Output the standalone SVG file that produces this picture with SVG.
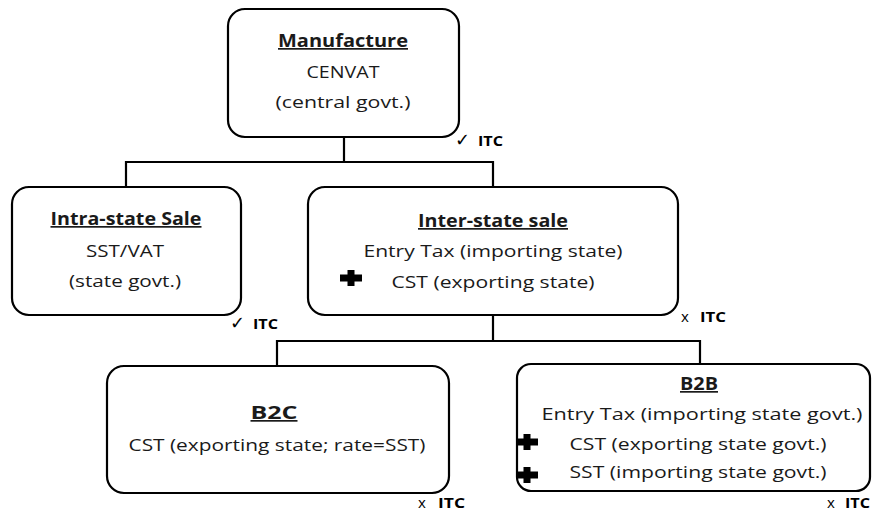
<svg xmlns="http://www.w3.org/2000/svg" width="873" height="514" viewBox="0 0 873 514">
<style>
.box{fill:#fff;stroke:#000;stroke-width:2.2}
.t{font-family:"Open Sans","Liberation Sans",sans-serif;font-size:17px;fill:#1a1a1a;text-anchor:middle}
.h{font-weight:bold;text-decoration:underline}
.itc{font-family:"Open Sans","Liberation Sans",sans-serif;font-size:15px;font-weight:bold;fill:#000}
.mk{font-family:"DejaVu Sans",sans-serif;font-size:18px;fill:#000}
.ln{stroke:#000;stroke-width:2.2;fill:none}
.plus{fill:#000}
</style>
<defs>
<path id="plus" d="M-3.5,-8h7v4.5h7.5v7h-7.5v4.5h-7v-4.5h-7.5v-7h7.5z"/>
</defs>
<g id="connectors">
<path class="ln" d="M344,137V162M126,187V162H493V187"/>
<path class="ln" d="M493,315V341M277,366V341H700V364"/>
</g>
<g id="manufacture">
<rect class="box" x="228" y="9" width="231" height="128" rx="17"/>
<text class="t h" x="343" y="47" textLength="130" lengthAdjust="spacingAndGlyphs">Manufacture</text>
<text class="t" x="343" y="78" textLength="73" lengthAdjust="spacingAndGlyphs">CENVAT</text>
<text class="t" x="343" y="108" textLength="135" lengthAdjust="spacingAndGlyphs">(central govt.)</text>
<text class="mk" x="455" y="146">✓</text>
<text class="itc" x="478" y="146" textLength="25" lengthAdjust="spacingAndGlyphs">ITC</text>
</g>
<g id="intra-state">
<rect class="box" x="12" y="187" width="229" height="128" rx="17"/>
<text class="t h" x="126" y="225" textLength="151" lengthAdjust="spacingAndGlyphs">Intra-state Sale</text>
<text class="t" x="125" y="257" textLength="78" lengthAdjust="spacingAndGlyphs">SST/VAT</text>
<text class="t" x="125" y="287" textLength="112" lengthAdjust="spacingAndGlyphs">(state govt.)</text>
<text class="mk" x="230" y="329">✓</text>
<text class="itc" x="253" y="329" textLength="25" lengthAdjust="spacingAndGlyphs">ITC</text>
</g>
<g id="inter-state">
<rect class="box" x="308" y="187" width="370" height="128" rx="17"/>
<text class="t h" x="493" y="227" textLength="150" lengthAdjust="spacingAndGlyphs">Inter-state sale</text>
<text class="t" x="493" y="257" textLength="259" lengthAdjust="spacingAndGlyphs">Entry Tax (importing state)</text>
<use class="plus" href="#plus" x="351" y="278"/>
<text class="t" x="493" y="288" textLength="203" lengthAdjust="spacingAndGlyphs">CST (exporting state)</text>
<text class="itc" x="681" y="322" style="font-weight:normal">x</text>
<text class="itc" x="700" y="322" textLength="26" lengthAdjust="spacingAndGlyphs">ITC</text>
</g>
<g id="b2c">
<rect class="box" x="107" y="366" width="342" height="127" rx="17"/>
<text class="t h" x="274" y="419" textLength="47" lengthAdjust="spacingAndGlyphs">B2C</text>
<text class="t" x="277" y="451" textLength="297" lengthAdjust="spacingAndGlyphs">CST (exporting state; rate=SST)</text>
<text class="itc" x="418" y="508" style="font-weight:normal">x</text>
<text class="itc" x="438" y="508" textLength="27" lengthAdjust="spacingAndGlyphs">ITC</text>
</g>
<g id="b2b">
<rect class="box" x="517" y="364" width="353" height="127" rx="14"/>
<text class="t h" x="699" y="390" textLength="38" lengthAdjust="spacingAndGlyphs">B2B</text>
<text class="t" x="702" y="420" textLength="321" lengthAdjust="spacingAndGlyphs">Entry Tax (importing state govt.)</text>
<use class="plus" href="#plus" x="527" y="442"/>
<text class="t" x="698" y="450" textLength="257" lengthAdjust="spacingAndGlyphs">CST (exporting state govt.)</text>
<use class="plus" href="#plus" x="527" y="475"/>
<text class="t" x="698" y="478" textLength="257" lengthAdjust="spacingAndGlyphs">SST (importing state govt.)</text>
<text class="itc" x="827" y="508" style="font-weight:normal">x</text>
<text class="itc" x="845" y="508" textLength="25" lengthAdjust="spacingAndGlyphs">ITC</text>
</g>
</svg>
